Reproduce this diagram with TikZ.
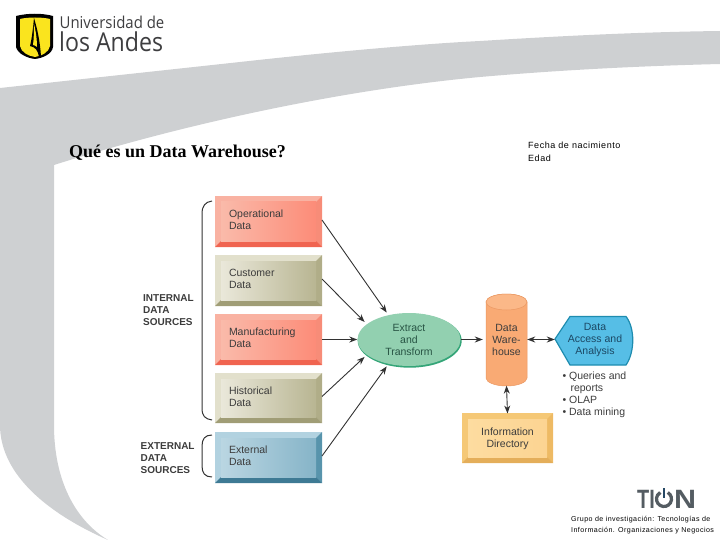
\documentclass[tikz,border=0pt]{standalone}
\usepackage{fontspec}
\setmainfont{Liberation Sans}
\newfontfamily\titlefont{Liberation Serif}
\newfontfamily\logofont{Open Sans}
\newfontfamily\notefont[LetterSpace=6]{Liberation Sans}
\usetikzlibrary{shapes.geometric, arrows.meta, positioning, calc}
\definecolor{cBand}{RGB}{206,208,210}
\definecolor{cInk}{RGB}{60,60,60}
\definecolor{cLine}{RGB}{50,50,50}
\definecolor{cLogo}{RGB}{62,62,64}
\definecolor{cTion}{RGB}{84,92,98}
\definecolor{cTionBlue}{RGB}{38,72,100}
\definecolor{cShield}{RGB}{250,228,30}
\definecolor{cGreenFill}{RGB}{146,208,176}
\definecolor{cGreenEdge}{RGB}{52,165,120}
\definecolor{cGreenInk}{RGB}{40,84,68}
\definecolor{cWare}{RGB}{249,170,116}
\definecolor{cWareTop}{RGB}{251,184,136}
\definecolor{cWareEdge}{RGB}{234,152,98}
\definecolor{cSkyFill}{RGB}{86,190,230}
\definecolor{cSkyEdge}{RGB}{30,140,175}
\definecolor{cSkyInk}{RGB}{28,72,100}
% bevel colours
\definecolor{cRedTop}{RGB}{249,178,162}
\definecolor{cRedBot}{RGB}{240,100,80}
\definecolor{cRedSide}{RGB}{247,140,120}
\definecolor{cRedL}{RGB}{250,186,170}
\definecolor{cRedR}{RGB}{252,140,120}
\definecolor{cTanTop}{RGB}{226,224,204}
\definecolor{cTanBot}{RGB}{160,157,118}
\definecolor{cTanSide}{RGB}{176,173,136}
\definecolor{cTanL}{RGB}{234,232,218}
\definecolor{cTanR}{RGB}{184,181,146}
\definecolor{cBluTop}{RGB}{178,210,224}
\definecolor{cBluBot}{RGB}{62,122,148}
\definecolor{cBluSide}{RGB}{88,148,172}
\definecolor{cBluL}{RGB}{186,214,226}
\definecolor{cBluR}{RGB}{134,180,200}
\definecolor{cYelTop}{RGB}{245,200,118}
\definecolor{cYelBot}{RGB}{228,174,90}
\definecolor{cYelSide}{RGB}{238,186,100}
\definecolor{cYelL}{RGB}{253,220,160}
\definecolor{cYelR}{RGB}{252,212,146}
\tikzset{
	sourcetext/.style={text width=79pt, align=left, yshift=1.5pt},
	directorytext/.style={text width=63pt, align=center, yshift=-0.5pt},
	boxlabel/.style={rectangle, inner xsep=14pt, inner ysep=0pt, outer sep=0pt, font=\fontsize{10.5}{11.7}\selectfont, text=cInk},
	grouplabel/.style={anchor=west, align=left, inner sep=0pt, font=\fontsize{10}{12}\selectfont\bfseries, text=cInk},
	plainlabel/.style={align=center, inner sep=0pt, font=\fontsize{10.5}{12}\selectfont},
	flow/.style={-{Stealth[length=8pt,width=6pt]}, line width=0.9pt, draw=cLine},
	flowgap/.style={flow, shorten >=3pt},
	flowboth/.style={{Stealth[length=8pt,width=6pt]}-{Stealth[length=8pt,width=6pt]}, line width=0.9pt, draw=cLine},
	bracket/.style={line width=1pt, draw=cLine},
	tionletter/.style={anchor=base west, inner sep=0pt, transform shape, text=cTion, font=\bfseries\fontsize{26.5}{27}\selectfont},
}
% name, left, top, width, height, colour, text style, text
\newcommand{\bevelbox}[8]{%
	\fill[#6Top] (#2,#3) rectangle ++(#4,#5);
	\fill[#6Side] ({#2+#4},#3) -- ++(-6,6) -- ++(0,{#5-12}) -- ++(6,6) -- cycle;
	\fill[#6Bot] (#2,{#3+#5}) -- ++(6,-6) -- ++({#4-12},0) -- ++(6,6) -- cycle;
	\shade[left color=#6L, right color=#6R] ({#2+6},{#3+6}) rectangle ++({#4-12},{#5-12});
	\node[boxlabel, #7, minimum width=#4pt, minimum height=#5pt] (#1) at ({#2+#4/2},{#3+#5/2}) {#8};}
\begin{document}
\begin{tikzpicture}[x=1pt,y=-1pt]
	\useasboundingbox (0,0) rectangle (720,540);
	% ---------------- band ----------------
	\fill[cBand] (0,88) -- (240,62) .. controls (330,52) and (420,44) .. (480,41)
		.. controls (560,36) and (640,32) .. (720,31) -- (720,64)
		.. controls (640,66) and (560,70) .. (480,77)
		.. controls (340,90) and (180,125) .. (54,165) -- (54,425)
		.. controls (54,480) and (75,520) .. (108,540)
		.. controls (40,510) and (0,470) .. (0,425) -- cycle;
	% ---------------- logo ----------------
	\fill[black] (16,16) .. controls (28,13) and (42,13) .. (53,16) -- (53,47)
		.. controls (52,54) and (43,58) .. (35,59) .. controls (27,58) and (18,54) .. (16,47) -- cycle;
	\fill[cShield] (20,19) .. controls (28,17) and (42,17) .. (50,19) -- (50,46)
		.. controls (49,52) and (42,56) .. (35,57) .. controls (28,56) and (21,52) .. (20,46) -- cycle;
	\fill[black] (34,18) .. controls (37,28) and (40,40) .. (41,57) -- (39,57)
		.. controls (38,50) and (35,47) .. (30,46) .. controls (32,38) and (33,28) .. (34,18) -- cycle;
	\fill[cShield] (34,24) .. controls (36,32) and (37,40) .. (37,47) .. controls (36,46) and (34,45) .. (33,45) .. controls (34,38) and (34,30) .. (34,24) -- cycle;
	\node[anchor=base west, inner sep=0pt, transform shape, xscale=0.91, text=cLogo, font=\logofont\fontsize{16.4}{18}\selectfont] (logotop) at (59.5,28.5) {Universidad de};
	\node[anchor=base west, inner sep=0pt, transform shape, xscale=0.89, text=cLogo, font=\logofont\fontsize{26}{28}\selectfont] (logobottom) at (59,52) {los Andes};
	% ---------------- headings ----------------
	\node[anchor=west, inner sep=0pt, font=\titlefont\bfseries\fontsize{18}{20}\selectfont] (title) at (69,152.5) {Qué es un Data Warehouse?};
	\node[anchor=north west, align=left, inner sep=0pt, font=\notefont\fontsize{9}{13}\selectfont] (fields) at (528,142) {Fecha de nacimiento\\Edad};
	% ---------------- sources ----------------
	\bevelbox{operational}{215}{196}{107}{51}{cRed}{sourcetext}{Operational\\Data}
	\bevelbox{customer}{215}{255}{107}{51}{cTan}{sourcetext}{Customer\\Data}
	\bevelbox{manufacturing}{215}{314}{107}{51}{cRed}{sourcetext}{Manufacturing\\Data}
	\bevelbox{historical}{215}{373}{107}{50}{cTan}{sourcetext}{Historical\\Data}
	\bevelbox{external}{215}{432}{107}{51}{cBlu}{sourcetext}{External\\Data}
	\draw[bracket] (212,201) .. controls (205,202) and (202,206) .. (202,214) -- (202,408) .. controls (202,416) and (205,419) .. (212,420);
	\draw[bracket] (212,435) .. controls (205,435) and (202,439) .. (202,446) -- (202,466) .. controls (202,473) and (205,477) .. (212,477);
	\node[grouplabel] (internal) at (143,310) {INTERNAL\\DATA\\SOURCES};
	\node[grouplabel] (extern) at (140.5,458) {EXTERNAL\\DATA\\SOURCES};
	% ---------------- extract ----------------
	\fill[cGreenEdge] (409.7,340.7) ellipse [x radius=52, y radius=27];
	\node[ellipse, plainlabel, minimum width=103pt, minimum height=53pt, fill=cGreenFill, text=cGreenInk] (extract) at (409,339.5) {Extract\\and\\Transform};
	% ---------------- warehouse ----------------
	\filldraw[fill=cWare, draw=cWareEdge, line width=0.5pt] (486,302) -- (486,378) arc [start angle=180, end angle=0, x radius=20.5, y radius=8] -- (527,302) arc [start angle=0, end angle=-180, x radius=20.5, y radius=8] -- cycle;
	\filldraw[fill=cWareTop, draw=cWareEdge, line width=0.5pt] (506.5,302) ellipse [x radius=20.5, y radius=8];
	\node[rectangle, plainlabel, minimum width=41pt, minimum height=92pt, text=cInk] (warehouse) at (506.5,339.5) {Data\\Ware-\\house};
	% ---------------- analysis ----------------
	\draw[fill=cSkyFill, draw=cSkyEdge, line width=1.2pt] (555,339) -- (570,316.5) -- (626,316.5) .. controls (635,328) and (635,352) .. (626,365) -- (570,365) -- cycle;
	\node[rectangle, plainlabel, minimum width=80pt, minimum height=50pt, text=cSkyInk] (access) at (595,339.5) {Data\\Access and\\Analysis};
	\node[below=7pt of access.south west, xshift=7.5pt, anchor=north west, align=left, inner sep=0pt, text=cInk, font=\fontsize{10.5}{12}\selectfont] (methods) {• Queries and\\\hspace*{8pt}reports\\• OLAP\\• Data mining};
	% ---------------- directory ----------------
	\bevelbox{directory}{462}{413}{91}{50}{cYel}{directorytext}{Information\\Directory}
	% ---------------- arrows ----------------
	\draw[flowgap] (operational.east) -- (extract.130);
	\draw[flowgap] (customer.east) -- (extract.160);
	\draw[flow] (manufacturing.east |- extract.west) -- (extract.west);
	\draw[flowgap] (historical.east) -- (extract.200);
	\draw[flowgap] (external.east) -- (extract.230);
	\draw[flowgap] (extract.east) -- (warehouse.west);
	\draw[flowboth] (warehouse.east) -- (access.west);
	\draw[flowboth] (warehouse.south) -- (directory.north);
	% ---------------- footer ----------------
	\node[tionletter, xscale=0.75] (tionleft) at (637,508) {TI};
	\draw[cTion, line width=3.2pt] (667.75,492.5) arc [start angle=-60, end angle=240, radius=7.5];
	\draw[cTionBlue, line width=2.8pt] (664,488) -- (664,498);
	\node[tionletter, xscale=1.15] (tionright) at (674,508) {N};
	\node[anchor=north west, align=left, inner sep=0pt, font=\notefont\fontsize{7.1}{11}\selectfont] (group) at (571,516.5) {Grupo de investigación: Tecnologías de\\Información. Organizaciones y Negocios};
\end{tikzpicture}
\end{document}
